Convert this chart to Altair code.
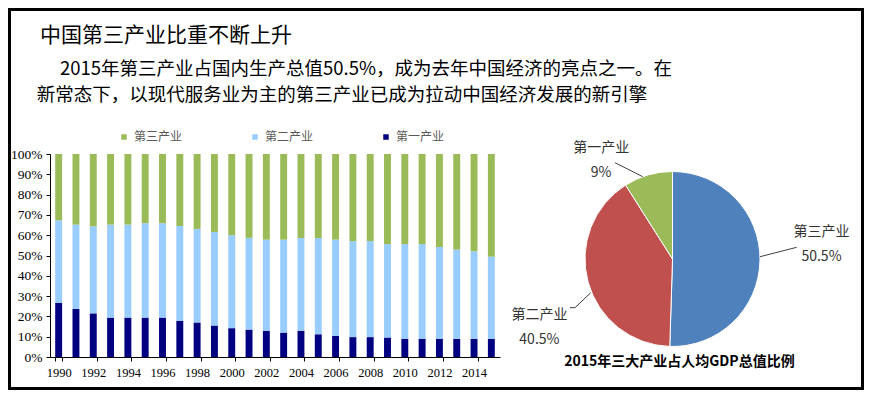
import altair as alt
import pandas as pd

# ---------------- data ----------------
years = list(range(1990, 2016))
primary = [26.6, 23.7, 21.5, 19.4, 19.4, 19.4, 19.4, 17.7, 17.0, 15.5, 14.2, 13.5, 12.8,
           12.0, 12.8, 11.2, 10.4, 9.8, 9.8, 9.6, 9.0, 9.0, 9.0, 8.9, 8.9, 8.9]
secondary = [40.7, 41.5, 42.9, 45.8, 45.8, 46.5, 46.5, 46.8, 46.1, 46.1, 45.8, 45.2, 45.0,
             45.8, 45.8, 47.4, 47.4, 47.3, 47.3, 46.0, 46.6, 46.6, 45.2, 44.0, 43.2, 40.5]
tertiary = [32.7, 34.8, 35.6, 34.8, 34.8, 34.1, 34.1, 35.5, 36.9, 38.4, 40.0, 41.3, 42.2,
            42.2, 41.4, 41.4, 42.2, 42.9, 42.9, 44.4, 44.4, 44.4, 45.8, 47.1, 47.9, 50.6]
industry_names = ["第三产业", "第二产业", "第一产业"]
bar_colors = ["#9BBB59", "#99CCFF", "#000080"]
tick_years = list(range(1990, 2015, 2))
y_ticks = list(range(0, 101, 10))

pie_names = ["第三产业", "第二产业", "第一产业"]
pie_values = [50.5, 40.5, 9.0]
pie_labels = ["50.5%", "40.5%", "9%"]
pie_colors = ["#4F81BD", "#C0504D", "#9BBB59"]

title_text = "中国第三产业比重不断上升"
sub_line1 = "2015年第三产业占国内生产总值50.5%，成为去年中国经济的亮点之一。在"
sub_line2 = "新常态下，以现代服务业为主的第三产业已成为拉动中国经济发展的新引擎"
pie_title = "2015年三大产业占人均GDP总值比例"

CJK = "Noto Sans CJK SC"
SERIF = "Liberation Serif"

# ---------------- tables ----------------
rows = []
for i, yr in enumerate(years):
    rows.append({"year": yr, "industry": "第一产业", "value": primary[i], "so": 0})
    rows.append({"year": yr, "industry": "第二产业", "value": secondary[i], "so": 1})
    rows.append({"year": yr, "industry": "第三产业", "value": tertiary[i], "so": 2})
bar_df = pd.DataFrame(rows)

pie_df = pd.DataFrame({"name": pie_names, "value": pie_values,
                       "label": pie_labels, "ord": list(range(len(pie_names)))})
one = pd.DataFrame({"k": [0]})

# ---------------- bar chart ----------------
bars = alt.Chart(bar_df).mark_bar().encode(
    x=alt.X("year:O",
            scale=alt.Scale(paddingInner=0.6, paddingOuter=0.3),
            axis=alt.Axis(values=tick_years, tickBand="extent", labelAngle=0, title=None,
                          labelFont=SERIF, labelFontSize=12.5, labelColor="black",
                          domainColor="black", tickColor="black", tickSize=4,
                          labelPadding=5)),
    y=alt.Y("value:Q", stack="zero",
            scale=alt.Scale(domain=[0, 100], nice=False),
            axis=alt.Axis(values=y_ticks, labelExpr="datum.value + '%'", title=None,
                          grid=False, labelFont=SERIF, labelFontSize=13.5,
                          labelColor="black", domainColor="black", tickColor="black",
                          tickSize=4, labelPadding=4)),
    color=alt.Color("industry:N",
                    scale=alt.Scale(domain=industry_names, range=bar_colors),
                    legend=alt.Legend(orient="none", legendX=68, legendY=-23,
                                      direction="horizontal", title=None,
                                      symbolType="square", symbolSize=30,
                                      symbolStrokeWidth=0, labelFont=CJK,
                                      labelFontSize=12, labelColor="#595959",
                                      labelOffset=4, columnPadding=66)),
    order=alt.Order("so:Q"),
)

# ---------------- pie chart ----------------
CX, CY = 622.5, 105
pie_base = alt.Chart(pie_df).encode(
    theta=alt.Theta("value:Q", stack=True),
    order=alt.Order("ord:Q"),
    x=alt.value(CX), y=alt.value(CY),
)
pie = pie_base.mark_arc(outerRadius=87.5, stroke="white", strokeWidth=1).encode(
    color=alt.Color("name:N", scale=alt.Scale(domain=pie_names, range=pie_colors),
                    legend=None)
)

label_specs = [("第三产业", 149, 0, -29), ("第二产业", 138, 0, 20), ("第一产业", 116, -39, 0)]
pie_texts = []
for nm, r, dx, dy in label_specs:
    pie_texts.append(
        pie_base.transform_calculate(
            lbl=f"datum.name == '{nm}' ? datum.name + '\\n' + datum.label : ''"
        ).mark_text(radius=r, dx=dx, dy=dy, lineBreak="\n", lineHeight=25,
                    fontSize=14, font=CJK, color="#333333", align="center",
                    baseline="middle").encode(text="lbl:N", detail="name:N")
    )


def rule(x1, y1, x2, y2):
    return alt.Chart(one).mark_rule(color="#404040", strokeWidth=1).encode(
        x=alt.value(x1), y=alt.value(y1), x2=alt.value(x2), y2=alt.value(y2))


leaders = [
    rule(710, 102.7, 746.7, 93.3),
    rule(520, 153.7, 525, 153.7),
    rule(525, 153.7, 540.7, 138.7),
    rule(565, 8.7, 592.7, 22.7),
]


def text(txt, x, y, size, weight="normal", align="left"):
    return alt.Chart(one).mark_text(align=align, baseline="middle", fontSize=size,
                                    font=CJK, fontWeight=weight, color="black").encode(
        x=alt.value(x), y=alt.value(y), text=alt.value(txt))


header = [
    text(title_text, -10, -118, 21),
    text(sub_line1, 10, -85, 18.5),
    text(sub_line2, -13.3, -59, 18.5),
    text(pie_title, 629.5, 207.5, 14, weight="bold", align="center"),
]

border = alt.Chart(one).mark_rect(fillOpacity=0, stroke="black", strokeWidth=3).encode(
    x=alt.value(-40.5), y=alt.value(-144.5), x2=alt.value(812.5), y2=alt.value(234.5))

chart = alt.layer(bars, pie, *pie_texts, *leaders, *header, border).resolve_scale(
    color="independent"
).properties(
    width=450, height=203,
    padding={"left": 42, "top": 146, "right": 364, "bottom": 36},
    autosize="none",
).configure_view(strokeWidth=0)

chart.save("out.html", embed_options={"renderer": "svg", "actions": False})
